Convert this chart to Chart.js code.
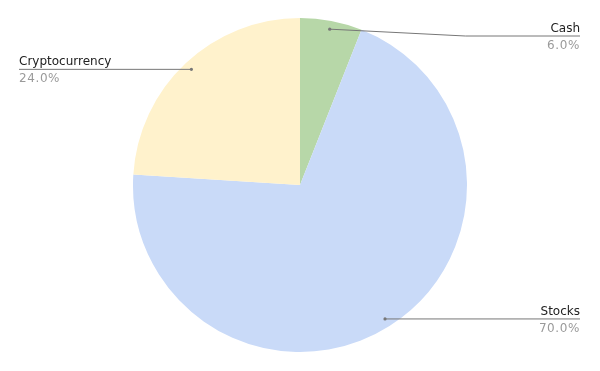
<!DOCTYPE html>
<html>
<head>
<meta charset="utf-8">
<script src="https://cdn.jsdelivr.net/npm/chart.js@4"></script>
<style>
  html, body { margin: 0; padding: 0; background: #fff; }
  #wrap { width: 600px; height: 371px; }
</style>
</head>
<body>
<div id="wrap"><canvas id="allocation"></canvas></div>
<script>
// portfolio allocation, clockwise from 12 o'clock
const categories = ['Cash', 'Stocks', 'Cryptocurrency'];
const shares = [6.0, 70.0, 24.0];
const sliceColors = ['#b7d7a8', '#c9daf8', '#fff2cc'];

const FONT = '12px "DejaVu Sans", Verdana, sans-serif';

// leader lines + two-line labels, google sheets style
const calloutPlugin = {
    id: 'callouts',
    afterDatasetsDraw(chart) {
        const ctx = chart.ctx;
        const meta = chart.getDatasetMeta(0);
        const area = chart.chartArea;
        const total = shares.reduce((a, b) => a + b, 0);
        ctx.save();
        ctx.font = FONT;
        meta.data.forEach((arc, i) => {
            const mid = (arc.startAngle + arc.endAngle) / 2;
            const r = arc.outerRadius * 0.95;
            const ax = arc.x + Math.cos(mid) * r;
            const ay = arc.y + Math.sin(mid) * r;
            const right = Math.cos(mid) >= 0;
            const lineY = Math.max(ay, area.top + 18);
            const edgeX = right ? 580 : 19;
            let elbowX = ax;
            if (lineY !== ay) elbowX = arc.x + arc.outerRadius * 0.99;

            ctx.strokeStyle = '#777';
            ctx.lineWidth = 1;
            ctx.beginPath();
            ctx.moveTo(ax, ay);
            ctx.lineTo(elbowX, lineY);
            ctx.lineTo(edgeX, lineY);
            ctx.stroke();

            ctx.fillStyle = '#777';
            ctx.beginPath();
            ctx.arc(ax, ay, 1.6, 0, Math.PI * 2);
            ctx.fill();

            ctx.textAlign = right ? 'right' : 'left';
            ctx.fillStyle = '#222';
            ctx.textBaseline = 'alphabetic';
            ctx.letterSpacing = '0px';
            ctx.fillText(categories[i], edgeX, lineY - 4);
            ctx.fillStyle = '#9a9a9a';
            ctx.textBaseline = 'top';
            ctx.letterSpacing = '0.6px';
            ctx.fillText((shares[i] / total * 100).toFixed(1) + '%', edgeX, lineY + 4);
        });
        ctx.restore();
    }
};

new Chart(document.getElementById('allocation'), {
    type: 'pie',
    data: {
        labels: categories,
        datasets: [{
            data: shares,
            backgroundColor: sliceColors,
            borderWidth: 0
        }]
    },
    options: {
        responsive: true,
        maintainAspectRatio: false,
        animation: false,
        layout: { padding: { top: 18, bottom: 19 } },
        plugins: {
            legend: { display: false },
            tooltip: { enabled: false }
        }
    },
    plugins: [calloutPlugin]
});
</script>
</body>
</html>
